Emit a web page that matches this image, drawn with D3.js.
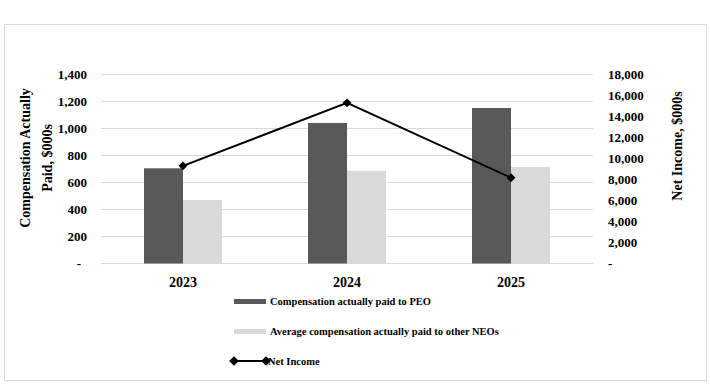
<!DOCTYPE html>
<html><head><meta charset="utf-8">
<script src="https://cdn.jsdelivr.net/npm/d3@7"></script>
<style>body{margin:0;background:#fff}svg{display:block}svg text{font-family:"Liberation Serif","Times New Roman",serif !important;font-weight:bold;fill:#000}</style>
</head><body><svg id="c" width="710" height="392" font-family="Liberation Serif" font-weight="bold"></svg>
<script>
const years = ["2023","2024","2025"];
const peoPaid = [705, 1041, 1152];
const neoPaid = [470, 687, 715];
const netIncome = [9300, 15300, 8170];
const leftTicks = [0,200,400,600,800,1000,1200,1400];
const rightTicks = [0,2000,4000,6000,8000,10000,12000,14000,16000,18000];
const seriesNames = ["Compensation actually paid to PEO","Average compensation actually paid to other NEOs","Net Income"];
const colors = ["#595959","#d9d9d9","#000"];

const svg = d3.select("#c");
svg.append("rect").attr("x",4.5).attr("y",24.5).attr("width",702).attr("height",356)
  .attr("fill","#fff").attr("stroke","#d9d9d9").attr("stroke-width",1);

const L=101, R=593, T=74.5, B=263.5;
const x = d3.scaleBand().domain(years).range([L,R]);
const yL = d3.scaleLinear().domain([0,1400]).range([B,T]);
const yR = d3.scaleLinear().domain([0,18000]).range([B,T]);
const fmt = v => v===0 ? "-" : d3.format(",")(v);

// gridlines
svg.append("g").selectAll("line").data(leftTicks).join("line")
  .attr("x1",L).attr("x2",R).attr("y1",d=>yL(d)).attr("y2",d=>yL(d))
  .attr("stroke","#d9d9d9").attr("stroke-width",1);

// left axis
const gl = svg.append("g").attr("transform",`translate(${L},0)`)
  .call(d3.axisLeft(yL).tickValues(leftTicks).tickFormat(fmt).tickSize(0).tickPadding(14));
gl.attr("font-family","Liberation Serif").attr("font-size",13);
gl.select(".domain").remove();
gl.selectAll(".tick").filter(d=>d===0).select("text").attr("dx",-6);

// right axis
const gr = svg.append("g").attr("transform",`translate(${R},0)`)
  .call(d3.axisRight(yR).tickValues(rightTicks).tickFormat(fmt).tickSize(0).tickPadding(15));
gr.attr("font-family","Liberation Serif").attr("font-size",13);
gr.select(".domain").remove();

// bars
const bw = x.bandwidth()*0.2378;
const bars = svg.append("g");
bars.selectAll(".p").data(years).join("rect")
  .attr("x",(d)=>x(d)+x.bandwidth()/2-bw).attr("width",bw)
  .attr("y",(d,i)=>yL(peoPaid[i])).attr("height",(d,i)=>B-yL(peoPaid[i]))
  .attr("fill",colors[0]);
bars.selectAll(".n").data(years).join("rect")
  .attr("x",(d)=>x(d)+x.bandwidth()/2).attr("width",bw)
  .attr("y",(d,i)=>yL(neoPaid[i])).attr("height",(d,i)=>B-yL(neoPaid[i]))
  .attr("fill",colors[1]);

// x labels
svg.append("g").selectAll("text").data(years).join("text")
  .attr("x",d=>x(d)+x.bandwidth()/2).attr("y",287).attr("text-anchor","middle")
  .attr("font-size",14).text(d=>d);

// line
const pts = years.map((d,i)=>[x(d)+x.bandwidth()/2, yR(netIncome[i])]);
svg.append("path").attr("d",d3.line()(pts)).attr("fill","none").attr("stroke","#000").attr("stroke-width",2);
const diamond = d3.symbol().type(d3.symbolDiamond2).size(50);
svg.append("g").selectAll("path").data(pts).join("path")
  .attr("transform",d=>`translate(${d[0]},${d[1]})`).attr("d",diamond).attr("fill","#000");

// axis titles
svg.append("text").attr("transform","translate(30,158) rotate(-90)").attr("text-anchor","middle")
  .attr("font-size",14).text("Compensation Actually");
svg.append("text").attr("transform","translate(52,158) rotate(-90)").attr("text-anchor","middle")
  .attr("font-size",14).text("Paid, $000s");
svg.append("text").attr("transform","translate(682,146) rotate(-90)").attr("text-anchor","middle")
  .attr("font-size",14).text("Net Income, $000s");

// legend
const lg = svg.append("g");
const rows = [301.5,331.5,361];
lg.append("rect").attr("x",234).attr("y",rows[0]-2.5).attr("width",32).attr("height",5).attr("fill",colors[0]);
lg.append("rect").attr("x",234).attr("y",rows[1]-2.5).attr("width",32).attr("height",5).attr("fill",colors[1]);
lg.append("line").attr("x1",234).attr("x2",266).attr("y1",rows[2]).attr("y2",rows[2]).attr("stroke","#000").attr("stroke-width",2);
lg.selectAll(".d").data([234,266]).join("path").attr("transform",d=>`translate(${d},${rows[2]})`)
  .attr("d",d3.symbol().type(d3.symbolDiamond2).size(60)).attr("fill","#000");
lg.selectAll("text").data(seriesNames).join("text")
  .attr("x",(d,i)=>i===2?268:270).attr("y",(d,i)=>rows[i]).attr("dy","0.35em")
  .attr("font-size",10.5).text(d=>d);
</script></body></html>
